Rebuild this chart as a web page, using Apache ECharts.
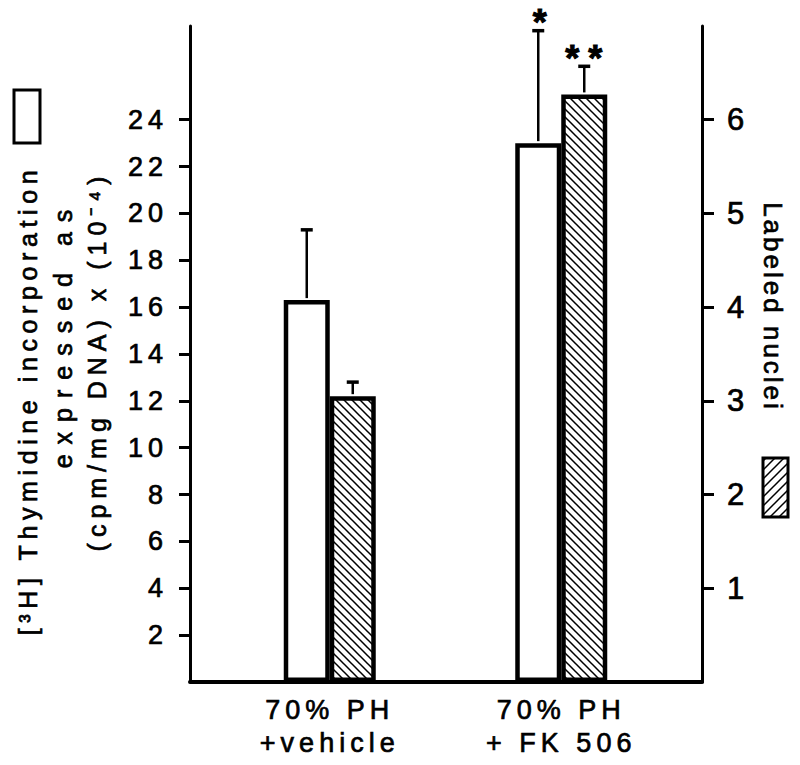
<!DOCTYPE html>
<html><head><meta charset="utf-8">
<script src="https://cdn.jsdelivr.net/npm/echarts@6/dist/echarts.min.js"></script>
<style>
html,body{margin:0;padding:0;background:#fff;}
#chart{width:800px;height:765px;}
#chart text{letter-spacing:5px;}
</style></head><body><div id="chart"></div>
<script>
// ---- data ----
const categories = ['70% PH\n+vehicle', '70% PH\n+ FK 506'];
const thymidine = [16.3, 23.0];          // left axis, open bars
const thymidineErrTop = [19.3, 27.8];
const thymidineSig = ['', '*'];
const nuclei = [3.05, 6.27];             // right axis, hatched bars
const nucleiErrTop = [3.2, 6.57];
const nucleiSig = ['', '**'];
const leftTicks = [2, 4, 6, 8, 10, 12, 14, 16, 18, 20, 22, 24];
const rightTicks = [1, 2, 3, 4, 5, 6];
const leftMax = 28, rightMax = 7;
const leftTitle = ['[³H] Thymidine incorporation', 'expressed as', '(cpm/mg DNA) x (10⁻⁴)'];
const rightTitle = 'Labeled nuclei';

// ---- style ----
const FONT = '"Liberation Sans", Arial, Helvetica, sans-serif';
const BAR_W = 46;
const spacing = {'[³H] Thymidine incorporation': '5.6px', 'expressed as': '10px', 'Labeled nuclei': '3px',
  '(cpm/mg DNA) x (10⁻⁴)': '6px', '**': '9px'};
const heavy = {textBorderColor: '#000', textBorderWidth: 0.7};

function txt(text, font) {
  return {text: text, font: font, fill: '#000', stroke: '#000', lineWidth: 0.7, textAlign: 'center', textVerticalAlign: 'middle'};
}

function hatch(dir, size, lw) {
  const c = document.createElement('canvas');
  c.width = c.height = size;
  const ctx = c.getContext('2d');
  ctx.fillStyle = '#fff'; ctx.fillRect(0, 0, size, size);
  ctx.strokeStyle = '#000'; ctx.lineWidth = lw;
  ctx.beginPath();
  for (const o of [-size, 0, size]) {
    if (dir === '\\') { ctx.moveTo(o - 1, -1); ctx.lineTo(o + size + 1, size + 1); }
    else { ctx.moveTo(o - 1, size + 1); ctx.lineTo(o + size + 1, -1); }
  }
  ctx.stroke();
  return {image: c, repeat: 'repeat', imageWidth: size, imageHeight: size};
}

function errRender(sigs, offset) {
  return function (params, api) {
    const base = api.coord([api.value(0), api.value(1)]);
    const top = api.coord([api.value(0), api.value(2)]);
    const x = base[0] + offset;
    const children = [
      {type: 'line', shape: {x1: x, y1: base[1] - 2, x2: x, y2: top[1]}, style: {stroke: '#000', lineWidth: 2.5}},
      {type: 'line', shape: {x1: x - 6, y1: top[1], x2: x + 6, y2: top[1]}, style: {stroke: '#000', lineWidth: 3.5}}
    ];
    const s = sigs[params.dataIndex];
    if (s) {
      const st = txt(s, 'bold 36px ' + FONT);
      st.textVerticalAlign = 'bottom';
      st.lineWidth = 1;
      children.push({type: 'text', x: x + 4, y: top[1] + 10, style: st});
    }
    return {type: 'group', children: children};
  };
}

const chart = echarts.init(document.getElementById('chart'), null, {renderer: 'svg'});
const option = {
  animation: false,
  backgroundColor: '#fff',
  grid: [
    {left: 190, right: 98, top: 26, bottom: 83},
    {left: 214, right: 123, top: 26, bottom: 83}
  ],
  xAxis: [
    {gridIndex: 0, type: 'category', data: categories,
      axisLine: {onZero: false, lineStyle: {color: '#000', width: 4}},
      axisTick: {show: false}, axisLabel: {show: false}, splitLine: {show: false}},
    {gridIndex: 1, type: 'category', data: categories,
      axisLine: {show: false}, axisTick: {show: false},
      axisLabel: Object.assign({color: '#000', fontFamily: FONT, fontSize: 27, lineHeight: 33, margin: 11}, heavy)}
  ],
  yAxis: [
    {gridIndex: 0, type: 'value', position: 'left', min: 0, max: leftMax, interval: 2,
      axisLine: {show: true, onZero: false, lineStyle: {color: '#000', width: 3}},
      axisTick: {show: true, customValues: leftTicks, length: 11, lineStyle: {color: '#000', width: 3}},
      axisLabel: Object.assign({customValues: leftTicks, color: '#000', fontFamily: FONT, fontSize: 27, margin: 22}, heavy),
      splitLine: {show: false}},
    {gridIndex: 0, type: 'value', position: 'right', min: 0, max: rightMax, interval: 1,
      axisLine: {show: true, onZero: false, lineStyle: {color: '#000', width: 3}},
      axisTick: {show: true, customValues: rightTicks, length: 12, lineStyle: {color: '#000', width: 3}},
      axisLabel: Object.assign({customValues: rightTicks, color: '#000', fontFamily: FONT, fontSize: 31, margin: 25}, heavy),
      splitLine: {show: false}},
    {gridIndex: 1, type: 'value', min: 0, max: leftMax, show: false},
    {gridIndex: 1, type: 'value', min: 0, max: rightMax, show: false}
  ],
  series: [
    {type: 'bar', xAxisIndex: 1, yAxisIndex: 2, data: thymidine, barWidth: BAR_W, barGap: '0%',
      itemStyle: {color: '#fff', borderColor: '#000', borderWidth: 4.5}, silent: true, z: 2},
    {type: 'bar', xAxisIndex: 1, yAxisIndex: 3, data: nuclei, barWidth: BAR_W, barGap: '0%',
      itemStyle: {color: hatch('\\', 8, 1.5), borderColor: '#000', borderWidth: 4.5}, silent: true, z: 3},
    {type: 'custom', xAxisIndex: 1, yAxisIndex: 2, silent: true, z: 1,
      data: thymidine.map((v, i) => [i, v, thymidineErrTop[i]]),
      encode: {x: 0, y: [1, 2]}, renderItem: errRender(thymidineSig, -BAR_W / 2)},
    {type: 'custom', xAxisIndex: 1, yAxisIndex: 3, silent: true, z: 1,
      data: nuclei.map((v, i) => [i, v, nucleiErrTop[i]]),
      encode: {x: 0, y: [1, 2]}, renderItem: errRender(nucleiSig, BAR_W / 2)}
  ],
  graphic: [
    {type: 'rect', shape: {x: 14, y: 90, width: 26, height: 53}, style: {fill: '#fff', stroke: '#000', lineWidth: 3}},
    {type: 'text', x: 28, y: 400, rotation: Math.PI / 2, style: txt(leftTitle[0], '25px ' + FONT)},
    {type: 'text', x: 63, y: 334, rotation: Math.PI / 2, style: txt(leftTitle[1], '25px ' + FONT)},
    {type: 'text', x: 97, y: 361, rotation: Math.PI / 2, style: txt(leftTitle[2], '25px ' + FONT)},
    {type: 'text', x: 773, y: 307, rotation: -Math.PI / 2, style: txt(rightTitle, '26px ' + FONT)},
    {type: 'rect', shape: {x: 763, y: 458, width: 25, height: 59},
      style: {fill: hatch('/', 9, 1.5), stroke: '#000', lineWidth: 3}}
  ]
};
chart.setOption(option);
function applySpacing() {
  document.querySelectorAll('#chart text').forEach(t => {
    const v = spacing[t.textContent.trim()];
    if (v) t.style.letterSpacing = v;
  });
}
applySpacing();
chart.on('finished', applySpacing);
</script></body></html>
